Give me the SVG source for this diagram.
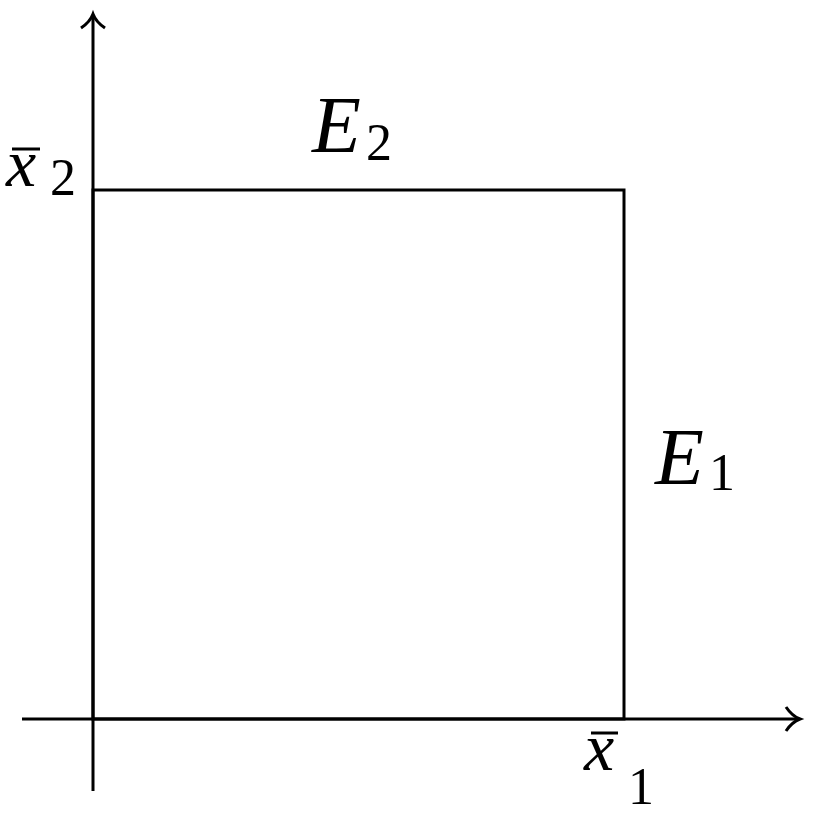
<svg xmlns="http://www.w3.org/2000/svg" width="824" height="816" viewBox="0 0 824 816">
<style>
.ln{stroke:#000;stroke-width:3;fill:none}
.t{font-family:"Liberation Serif",serif;font-style:italic;font-size:80px;fill:#000}
.x{font-family:"Liberation Serif",serif;font-style:italic;font-size:68px;fill:#000}
.s{font-family:"Liberation Serif",serif;font-style:normal;font-size:52px;fill:#000}
</style>
<rect width="824" height="816" fill="#fff"/>
<g id="connectors">
<line class="ln" x1="22" y1="719" x2="798" y2="719"/>
<path class="ln" d="M786 707 Q792 716 800 719 Q792 722 786 731"/>
<line class="ln" x1="93" y1="791" x2="93" y2="16"/>
<path class="ln" d="M81 28 Q90 22 93 14 Q96 22 105 28"/>
</g>
<g id="box"><rect class="ln" x="93" y="190" width="531" height="529"/></g>
<g id="E2"><text class="t" x="312" y="152">E</text><text class="s" x="366" y="160">2</text></g>
<g id="E1"><text class="t" x="655" y="484">E</text><text class="s" x="709" y="490">1</text></g>
<g id="x2"><text class="x" x="6" y="186">x</text><line class="ln" x1="12" y1="149" x2="40" y2="149"/><text class="s" x="50" y="195">2</text></g>
<g id="x1"><text class="x" x="584" y="770">x</text><line class="ln" x1="591" y1="733" x2="618" y2="733"/><text class="s" x="628" y="804">1</text></g>
</svg>
